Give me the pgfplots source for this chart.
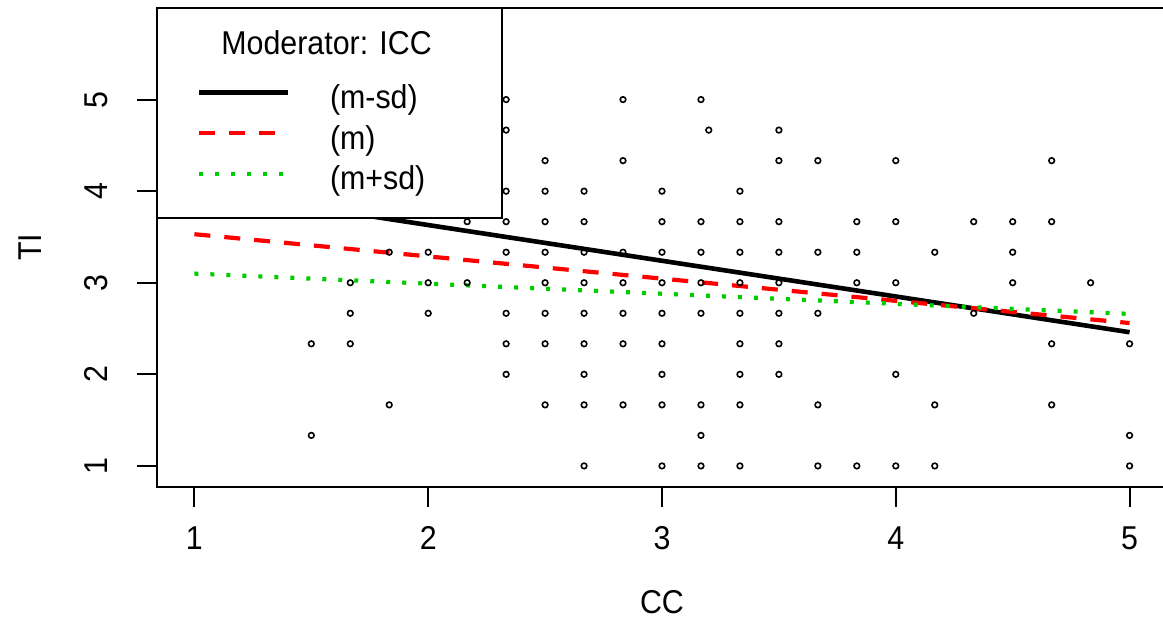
\documentclass[border=0pt]{standalone}
\usepackage{fontspec}
\setmainfont{Liberation Sans}[FakeStretch=0.92]
\usepackage{pgfplots}
\pgfplotsset{compat=1.18}
\definecolor{rgreen}{RGB}{0,205,0}

\begin{document}
\begin{tikzpicture}
\begin{axis}[
    scale only axis,
    width=505pt, height=239.5pt,
    xmin=0.84, xmax=5.16, ymin=0.77, ymax=6.0,
    xtick={1,2,3,4,5}, ytick={1,2,3,4,5},
    tick pos=left,
    tick align=outside,
    major tick length=10pt,
    tick style={black, line width=1pt},
    axis line style={line width=1pt},
    font=\fontsize{16.5}{19}\selectfont,
    /pgf/number format/assume math mode=true,
    xticklabel style={anchor=center, yshift=-15.5pt},
    yticklabel style={xshift=-20.5pt, rotate=90, anchor=center},
    xlabel={CC}, ylabel={TI},
    x label style={at={(axis description cs:0.5,-0.240)}, anchor=center},
    y label style={at={(axis description cs:-0.1257,0.5)}, anchor=center},
]
% observed points
\addplot[only marks, mark=o, mark size=1.4pt, mark options={line width=0.8pt, black}] table {
x y
1.5 2.3333
1.5 1.3333
1.6667 3
1.6667 2.6667
1.6667 2.3333
1.8333 3.3333
1.8333 1.6667
2 3.3333
2 3
2 2.6667
2.1667 3.6667
2.1667 3
2.3333 5
2.3333 4.6667
2.3333 4
2.3333 3.6667
2.3333 3.3333
2.3333 2.6667
2.3333 2.3333
2.3333 2
2.5 4.3333
2.5 4
2.5 3.6667
2.5 3.3333
2.5 3
2.5 2.6667
2.5 2.3333
2.5 1.6667
2.6667 4
2.6667 3.6667
2.6667 3.3333
2.6667 3
2.6667 2.6667
2.6667 2.3333
2.6667 2
2.6667 1.6667
2.6667 1
2.8333 5
2.8333 4.3333
2.8333 3.3333
2.8333 3
2.8333 2.6667
2.8333 2.3333
2.8333 1.6667
3 4
3 3.6667
3 3.3333
3 3
3 2.6667
3 2.3333
3 2
3 1.6667
3 1
3.1667 5
3.1667 3.6667
3.1667 3.3333
3.1667 3
3.1667 2.6667
3.1667 1.6667
3.1667 1.3333
3.1667 1
3.2 4.6667
3.3333 4
3.3333 3.6667
3.3333 3.3333
3.3333 3
3.3333 2.6667
3.3333 2.3333
3.3333 2
3.3333 1.6667
3.3333 1
3.5 4.6667
3.5 4.3333
3.5 3.6667
3.5 3.3333
3.5 3
3.5 2.6667
3.5 2.3333
3.5 2
3.6667 4.3333
3.6667 3.3333
3.6667 2.6667
3.6667 1.6667
3.6667 1
3.8333 3.6667
3.8333 3.3333
3.8333 3
3.8333 1
4 4.3333
4 3.6667
4 3
4 2
4 1
4.1667 3.3333
4.1667 1.6667
4.1667 1
4.3333 3.6667
4.3333 2.6667
4.5 3.6667
4.5 3.3333
4.5 3
4.6667 4.3333
4.6667 3.6667
4.6667 2.3333
4.6667 1.6667
4.8333 3
5 2.3333
5 1.3333
5 1
};
% simple slopes
\addplot[black, line width=2.3pt] coordinates {(1,4.02) (5,2.46)};
\addplot[red, line width=2.1pt, dash pattern=on 8pt off 7pt] coordinates {(1,3.53) (5,2.56)};
\addplot[rgreen, line width=2.1pt, dash pattern=on 2pt off 6pt] coordinates {(1,3.10) (5,2.66)};
\end{axis}

% legend box, top left
\begin{scope}[shift={(current axis.north west)}, x=1pt, y=1pt, font=\fontsize{16.5}{19}\selectfont]
\draw[fill=white, line width=1pt] (0,0) rectangle (172.5,-105);
\node at (84.8,-17.3) {Moderator: ICC};
\draw[black, line width=2.3pt] (21.2,-42.2) -- (65.7,-42.2);
\draw[red, line width=2.1pt, dash pattern=on 8pt off 7pt] (21.2,-62.7) -- (65.7,-62.7);
\draw[rgreen, line width=2.1pt, dash pattern=on 2pt off 6pt] (21.2,-83) -- (65.7,-83);
\node[anchor=west, inner sep=0pt] at (86.3,-45.8) {(m-sd)};
\node[anchor=west, inner sep=0pt] at (86.3,-66.3) {(m)};
\node[anchor=west, inner sep=0pt] at (86.3,-86.6) {(m+sd)};
\end{scope}

\pgfresetboundingbox
\path[use as bounding box] ([shift={(-78.5pt,-65.5pt)}]current axis.south west) rectangle ([shift={(503pt,4pt)}]current axis.north west);
\end{tikzpicture}
\end{document}
